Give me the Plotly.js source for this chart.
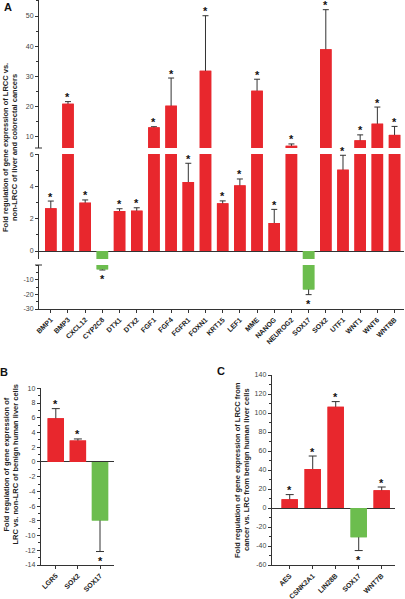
<!DOCTYPE html>
<html><head><meta charset="utf-8">
<script src="https://cdn.plot.ly/plotly-3.0.1.min.js"></script>
<style>html,body{margin:0;padding:0;background:#fff}#chart{width:405px;height:599px}</style>
</head><body><div id="chart"></div>
<script>
// ---------- Panel A data ----------
const genesA = ['BMP1','BMP3','CXCL12','CYP2C8','DTX1','DTX2','FGF1','FGF4','FGFR1','FOXN1','KRT15','LEF1','MME','NANOG','NEUROG2','SOX17','SOX2','UTF1','WNT1','WNT6','WNT8B'];
const valuesA = [2.67, 21.0, 3.02, -3.0, 2.5, 2.52, 13.2, 20.35, 4.31, 31.9, 2.98, 4.1, 25.3, 1.75, 7.1, -16.7, 39.0, 5.08, 8.9, 14.4, 10.7];
const errorsA = [0.45, 0.7, 0.17, 0.4, 0.14, 0.18, 0.2, 9.15, 1.17, 18.2, 0.15, 0.4, 3.8, 0.85, 0.6, 3.5, 13.1, 0.9, 1.8, 5.5, 2.8];
const ticksA_top = [10, 20, 30, 40, 50];
const ticksA_mid = [0, 2, 4, 6];
const ticksA_bot = [-30, -20, -10];
// ---------- Panel B data ----------
const genesB = ['LGR5','SOX2','SOX17'];
const valuesB = [5.94, 2.9, -7.97];
const errorsB = [1.3, 0.22, 4.2];
const ticksB = [-14,-12,-10,-8,-6,-4,-2,0,2,4,6,8,10];
// ---------- Panel C data ----------
const genesC = ['AES','CSNK2A1','LIN28B','SOX17','WNT7B'];
const valuesC = [9.2, 41.0, 106.7, -30.8, 18.6];
const errorsC = [4.9, 13.7, 5.3, 14.0, 3.5];
const ticksC = [-60,-40,-20,0,20,40,60,80,100,120,140];
// ---------- Axis titles ----------
const titleA = ['Fold regulation of gene expression of LRCC vs.', 'non-LRCC of liver and colorectal cancers'];
const titleB = ['Fold regulation of gene expression of', 'LRC vs. non-LRC of benign human liver cells'];
const titleC = ['Fold regulation of gene expression of LRCC from', 'cancer vs. LRC from benign human liver cells'];

const W = 405, H = 599;
const RED = '#e8272d', GREEN = '#6cbd4e', INK = '#333';
const FONT = '"Liberation Sans", Arial, sans-serif';
const xd = (a, b) => [a / W, b / W];
const yd = (top, bottom) => [1 - bottom / H, 1 - top / H];

const rTop = [6.36, 55.3], rMid = [-0.5, 6.06], rBot = [-30, 0];

function barPair(cats, vals, errs, xa, ya, w, capw) {
  const colors = vals.map(v => v >= 0 ? RED : GREEN);
  // the error bar's inner half stays hidden inside the bar (covered by the second trace)
  const up = vals.map((v, i) => v >= 0 ? errs[i] : -v / 2);
  const down = vals.map((v, i) => v >= 0 ? v / 2 : errs[i]);
  const base = {type: 'bar', x: cats, y: vals, width: w, xaxis: xa, yaxis: ya,
    marker: {color: colors, line: {width: 0}}, hoverinfo: 'skip', showlegend: false};
  return [
    Object.assign({}, base, {error_y: {type: 'data', symmetric: false, array: up, arrayminus: down, color: INK, thickness: 1, width: capw}}),
    Object.assign({}, base)
  ];
}

function stars(cats, vals, errs, xref, yrefFor) {
  return vals.map((v, i) => {
    const cap = v >= 0 ? v + errs[i] : v - errs[i];
    return {x: cats[i], y: cap, xref: xref, yref: yrefFor(cap), text: '*', showarrow: false,
      xanchor: 'center', yanchor: v >= 0 ? 'bottom' : 'top', yshift: -2.5, borderpad: 0,
      font: {family: FONT, size: 11, color: '#111', weight: 'bold'}};
  });
}

function yax(domain, range, tv, minorStep, zl, anchor) {
  return {domain, range, anchor, showline: true, linecolor: INK, linewidth: 1,
    ticks: 'outside', ticklen: 3, tickwidth: 1, tickcolor: INK,
    tickmode: 'array', tickvals: tv, ticktext: tv.map(String),
    tickfont: {family: FONT, size: 7, color: '#444'}, showgrid: false,
    zeroline: zl, zerolinecolor: INK, zerolinewidth: 1,
    minor: {dtick: minorStep, tick0: 0, ticks: 'outside', ticklen: 2, tickcolor: INK, showgrid: false},
    fixedrange: true};
}
function xax(domain, range, anchor) {
  return {domain, range, anchor, type: 'category', showline: true, linecolor: INK, linewidth: 1,
    ticks: 'outside', ticklen: 3, tickcolor: INK, tickangle: -45,
    tickfont: {family: FONT, size: 7, color: '#222', weight: 'bold'},
    showgrid: false, zeroline: false, fixedrange: true};
}

const traces = [].concat(
  barPair(genesA, valuesA, errorsA, 'x', 'y', 0.67, 3),
  barPair(genesA, valuesA, errorsA, 'x', 'y2', 0.67, 3),
  barPair(genesA, valuesA, errorsA, 'x', 'y3', 0.67, 3),
  barPair(genesB, valuesB, errorsB, 'x2', 'y4', 0.74, 4),
  barPair(genesC, valuesC, errorsC, 'x3', 'y5', 0.71, 4)
);

const yrefA = cap => cap > rTop[0] ? 'y' : (cap >= rMid[0] ? 'y2' : 'y3');

const titleFont = {family: FONT, size: 7.5, color: '#222', weight: 'bold'};
function vtitle(lines, xpx, ypx, gap) {
  return lines.map((t, k) => ({xref: 'paper', yref: 'paper', x: (xpx + (k - (lines.length - 1) / 2) * gap) / W,
    y: 1 - ypx / H, textangle: -90, showarrow: false, xanchor: 'center', yanchor: 'middle',
    text: t, font: titleFont}));
}
const letter = (t, xpx, ypx) => ({xref: 'paper', yref: 'paper', x: xpx / W, y: 1 - ypx / H, showarrow: false,
  xanchor: 'center', yanchor: 'middle', text: t, font: {family: FONT, size: 11, color: '#111', weight: 'bold'}});

const annotations = [].concat(
  stars(genesA, valuesA, errorsA, 'x', yrefA),
  stars(genesB, valuesB, errorsB, 'x2', () => 'y4'),
  stars(genesC, valuesC, errorsC, 'x3', () => 'y5'),
  vtitle(titleA, 10, 147.5, 9),
  vtitle(titleB, 10, 465, 9),
  vtitle(titleC, 241.5, 470, 9),
  [letter('A', 7.5, 7), letter('B', 4, 372), letter('C', 221, 371)]
);

const brk = py => ({type: 'line', xref: 'paper', yref: 'paper', x0: 35 / W, x1: 42 / W, y0: 1 - py / H, y1: 1 - py / H, line: {color: INK, width: 1}});

const layout = {
  width: W, height: H, margin: {l: 0, r: 0, t: 0, b: 0},
  paper_bgcolor: '#fff', plot_bgcolor: '#fff', showlegend: false, barmode: 'overlay',
  font: {family: FONT, color: '#333'},
  xaxis: xax(xd(39, 404), [-0.687, 20.55], 'y3'),
  yaxis: yax(yd(0, 148), rTop, ticksA_top, 5, false, 'x'),
  yaxis2: yax(yd(154, 259), rMid, ticksA_mid, 1, true, 'x'),
  yaxis3: yax(yd(265, 309), rBot, ticksA_bot, 5, false, 'x'),
  xaxis2: xax(xd(40.7, 114.3), [-0.683, 2.647], 'y4'),
  yaxis4: yax(yd(388.3, 565), [-14, 10], ticksB, 1, true, 'x2'),
  xaxis3: xax(xd(271.7, 395), [-0.783, 4.578], 'y5'),
  yaxis5: yax(yd(375, 565), [-60, 140], ticksC, 10, true, 'x3'),
  annotations: annotations,
  shapes: [brk(148), brk(265)]
};

Plotly.newPlot('chart', traces, layout, {staticPlot: true, displayModeBar: false});
</script>
</body></html>
